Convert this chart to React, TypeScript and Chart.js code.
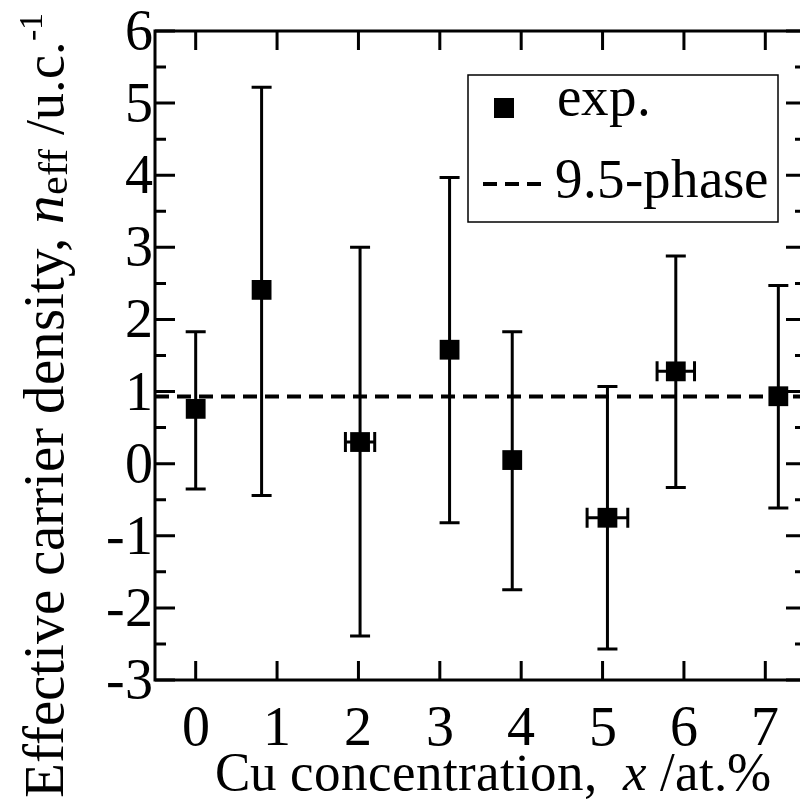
import React, { useEffect, useRef } from "react";
import { Chart, registerables } from "chart.js";

Chart.register(...registerables);

// ---- data ----
const concentrations = [0, 0.81, 2.02, 3.12, 3.89, 5.06, 5.9, 7.16];
const carrierDensity = [0.76, 2.41, 0.3, 1.58, 0.05, -0.75, 1.28, 0.935];
const densityUpper = [1.83, 5.22, 3.0, 3.97, 1.83, 1.07, 2.88, 2.47];
const densityLower = [-0.35, -0.44, -2.39, -0.82, -1.75, -2.57, -0.33, -0.615];
const concentrationErr = [0, 0, 0.18, 0, 0, 0.25, 0.23, 0];
const phaseLevel = 0.93;
const xTickValues = [0, 1, 2, 3, 4, 5, 6, 7];
const yTickValues = [-3, -2, -1, 0, 1, 2, 3, 4, 5, 6];
const yMinorTickValues = [-2.5, -1.5, -0.5, 0.5, 1.5, 2.5, 3.5, 4.5, 5.5];
const xRange = [-0.5, 7.5];
const yRange = [-3, 6];
const legendLabels = ["exp.", "9.5-phase"];

const FONT = "ChartSerif, 'Liberation Serif', serif";
const CANVAS_W = 830;
const CANVAS_H = 804;

function setFont(ctx: CanvasRenderingContext2D, size: number, italic = false) {
  ctx.font = `${italic ? "italic " : ""}${size}px ${FONT}`;
}

const drawPlugin = {
  id: "customDraw",
  beforeDatasetsDraw(chart: any) {
    const ctx = chart.ctx;
    const xs = chart.scales.x;
    const ys = chart.scales.y;
    ctx.save();
    ctx.strokeStyle = "#000";
    ctx.lineWidth = 3;
    const cap = 10;
    for (let i = 0; i < concentrations.length; i++) {
      const px = xs.getPixelForValue(concentrations[i]);
      const py = ys.getPixelForValue(carrierDensity[i]);
      const pt = ys.getPixelForValue(densityUpper[i]);
      const pb = ys.getPixelForValue(densityLower[i]);
      ctx.beginPath();
      ctx.moveTo(px, pt);
      ctx.lineTo(px, pb);
      ctx.moveTo(px - cap, pt);
      ctx.lineTo(px + cap, pt);
      ctx.moveTo(px - cap, pb);
      ctx.lineTo(px + cap, pb);
      ctx.stroke();
      if (concentrationErr[i] > 0) {
        const pl = xs.getPixelForValue(concentrations[i] - concentrationErr[i]);
        const pr = xs.getPixelForValue(concentrations[i] + concentrationErr[i]);
        ctx.beginPath();
        ctx.moveTo(pl, py);
        ctx.lineTo(pr, py);
        ctx.moveTo(pl, py - cap);
        ctx.lineTo(pl, py + cap);
        ctx.moveTo(pr, py - cap);
        ctx.lineTo(pr, py + cap);
        ctx.stroke();
      }
    }
    ctx.restore();
  },
  afterDraw(chart: any) {
    const ctx = chart.ctx;
    const xs = chart.scales.x;
    const ys = chart.scales.y;
    const { left, right, top, bottom } = chart.chartArea;
    ctx.save();
    ctx.strokeStyle = "#000";
    ctx.fillStyle = "#000";
    ctx.lineWidth = 3;
    ctx.strokeRect(left, top, right - left, bottom - top);

    // ticks
    ctx.beginPath();
    for (const v of yTickValues) {
      const y = ys.getPixelForValue(v);
      ctx.moveTo(left, y);
      ctx.lineTo(left + 20, y);
      ctx.moveTo(right, y);
      ctx.lineTo(right - 20, y);
    }
    for (const v of yMinorTickValues) {
      const y = ys.getPixelForValue(v);
      ctx.moveTo(left, y);
      ctx.lineTo(left + 11, y);
      ctx.moveTo(right, y);
      ctx.lineTo(right - 11, y);
    }
    for (const v of xTickValues) {
      const x = xs.getPixelForValue(v);
      ctx.moveTo(x, bottom);
      ctx.lineTo(x, bottom - 19);
      ctx.moveTo(x, top);
      ctx.lineTo(x, top + 19);
    }
    ctx.stroke();

    // tick labels
    setFont(ctx, 56);
    ctx.textAlign = "right";
    ctx.textBaseline = "alphabetic";
    for (const v of yTickValues) {
      ctx.fillText(String(v), left - 2, ys.getPixelForValue(v) + 18);
    }
    ctx.textAlign = "center";
    for (const v of xTickValues) {
      ctx.fillText(String(v), xs.getPixelForValue(v), 745);
    }

    // x title
    ctx.textAlign = "left";
    let cx = 215;
    const by = 790;
    const xParts: [string, boolean][] = [
      ["Cu concentration,  ", false],
      ["x", true],
      [" /at.%", false],
    ];
    for (const [t, it] of xParts) {
      setFont(ctx, 53, it);
      ctx.fillText(t, cx, by);
      cx += ctx.measureText(t).width;
    }

    // y title (rotated)
    ctx.save();
    ctx.translate(63, 798);
    ctx.rotate(-Math.PI / 2);
    let tx = 0;
    const yParts: [string, boolean, number, number][] = [
      ["Effective carrier density, ", false, 56.5, 0],
      ["n", true, 56.5, 0],
      ["eff", false, 42, 4],
      [" /u.c.", false, 54, 0],
      ["-1", false, 34, -21],
    ];
    for (const [t, it, sz, dy] of yParts) {
      setFont(ctx, sz, it);
      ctx.fillText(t, tx, dy);
      tx += ctx.measureText(t).width;
    }
    ctx.restore();

    // legend
    ctx.lineWidth = 1.5;
    ctx.strokeRect(468, 75, 310, 147);
    ctx.fillRect(494, 98, 20, 20);
    setFont(ctx, 55);
    ctx.fillText(legendLabels[0], 557, 115);
    ctx.fillText(legendLabels[1], 555, 197);
    ctx.lineWidth = 4;
    ctx.setLineDash([14, 8]);
    ctx.beginPath();
    ctx.moveTo(483, 184);
    ctx.lineTo(543, 184);
    ctx.stroke();
    ctx.setLineDash([]);
    ctx.restore();
  },
};

export default function App() {
  const ref = useRef<HTMLCanvasElement | null>(null);
  useEffect(() => {
    if (!ref.current) return;
    const points = concentrations.map((x, i) => ({ x, y: carrierDensity[i] }));
    const chart = new Chart(ref.current, {
      type: "line",
      data: {
        datasets: [
          {
            label: legendLabels[0],
            data: points,
            showLine: false,
            pointStyle: "rect",
            pointRadius: 14,
            pointBorderWidth: 0,
            pointBackgroundColor: "#000",
            borderColor: "#000",
            backgroundColor: "#000",
          },
          {
            label: legendLabels[1],
            data: [
              { x: xRange[0], y: phaseLevel },
              { x: xRange[1], y: phaseLevel },
            ],
            borderColor: "#000",
            borderWidth: 4,
            borderDash: [14, 8],
            pointRadius: 0,
            fill: false,
          },
        ],
      },
      options: {
        animation: false,
        responsive: false,
        devicePixelRatio: 1,
        events: [],
        layout: {
          padding: { left: 155, right: CANVAS_W - 806, top: 31, bottom: CANVAS_H - 680 },
        },
        scales: {
          x: { type: "linear", min: xRange[0], max: xRange[1], display: false },
          y: { type: "linear", min: yRange[0], max: yRange[1], display: false },
        },
        plugins: { legend: { display: false }, tooltip: { enabled: false } },
      },
      plugins: [drawPlugin],
    } as any);
    let alive = true;
    const redraw = () => {
      if (alive) chart.draw();
    };
    const timers = [setTimeout(redraw, 50), setTimeout(redraw, 250), setTimeout(redraw, 600)];
    try {
      const FF: any = (window as any).FontFace;
      const fonts: any = (document as any).fonts;
      if (FF && fonts) {
        const faces = [
          new FF("ChartSerif", "local('Liberation Serif'), local('LiberationSerif')", {
            style: "normal",
            weight: "400",
          }),
          new FF(
            "ChartSerif",
            "local('Liberation Serif Italic'), local('LiberationSerif-Italic')",
            { style: "italic", weight: "400" }
          ),
        ];
        faces.forEach((f: any) => fonts.add(f));
        Promise.all(faces.map((f: any) => f.load()))
          .then(redraw)
          .catch(redraw);
      }
    } catch (e) {
      // ignore
    }
    return () => {
      alive = false;
      timers.forEach(clearTimeout);
      chart.destroy();
    };
  }, []);
  return (
    <div
      style={{
        position: "fixed",
        left: 0,
        top: 0,
        width: 800,
        height: 804,
        overflow: "hidden",
        background: "#fff",
        fontFamily: "'Liberation Serif'",
      }}
    >
      <canvas ref={ref} width={CANVAS_W} height={CANVAS_H} style={{ display: "block" }} />
    </div>
  );
}
